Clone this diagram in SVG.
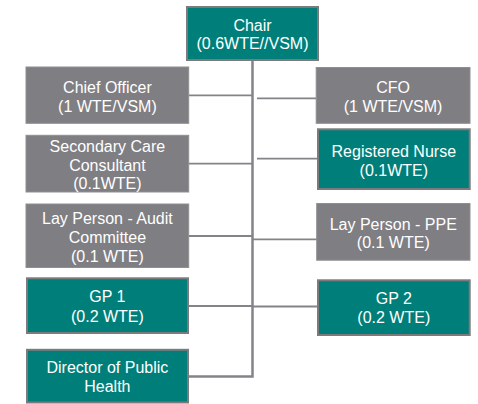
<svg xmlns="http://www.w3.org/2000/svg" width="478" height="404" viewBox="0 0 478 404">
<style>
.g{fill:#7f7e83;stroke:#8f8f92;stroke-width:1}
.t{fill:#007f7a;stroke:#7b7b7e;stroke-width:2}
text{font-family:"Liberation Sans",Arial,sans-serif;font-size:16px;fill:#ffffff;text-anchor:middle}
.c{stroke:#848488;fill:none}
</style>
<rect width="478" height="404" fill="#ffffff"/>
<g id="connectors">
<path class="c" stroke-width="2.5" d="M252.5 61V376.5H189"/>
<g stroke-width="1.8" class="c">
<line x1="189" y1="95.3" x2="252" y2="95.3"/>
<line x1="189" y1="163.7" x2="252" y2="163.7"/>
<line x1="189" y1="236" x2="252" y2="236"/>
<line x1="189" y1="306" x2="252" y2="306"/>
<line x1="257" y1="98.3" x2="316" y2="98.3"/>
<line x1="257" y1="158.7" x2="317" y2="158.7"/>
<line x1="253" y1="239.3" x2="317" y2="239.3"/>
<line x1="253" y1="306.5" x2="317" y2="306.5"/>
</g>
</g>
<g id="chair"><rect class="t" x="187" y="7" width="131" height="53"/><text x="252.5" y="30.7">Chair</text><text x="252.5" y="49.3">(0.6WTE//VSM)</text></g>
<g id="chief-officer"><rect class="g" x="26" y="67" width="162.7" height="56.3"/><text x="107.4" y="92.5">Chief Officer</text><text x="107.4" y="111.5">(1 WTE/VSM)</text></g>
<g id="cfo"><rect class="g" x="316.2" y="67.5" width="153.8" height="55.8"/><text x="393.1" y="93.4">CFO</text><text x="393.1" y="112.4">(1 WTE/VSM)</text></g>
<g id="secondary-care"><rect class="g" x="26" y="135.3" width="162.7" height="56.7"/><text x="107.4" y="151.5">Secondary Care</text><text x="107.4" y="170.5">Consultant</text><text x="107.4" y="189.2">(0.1WTE)</text></g>
<g id="registered-nurse"><rect class="t" x="318" y="129.3" width="151.7" height="59.7"/><text x="393.8" y="156.7">Registered Nurse</text><text x="393.8" y="175.7">(0.1WTE)</text></g>
<g id="lay-audit"><rect class="g" x="26" y="204" width="162.7" height="63.5"/><text x="107.4" y="224">Lay Person - Audit</text><text x="107.4" y="242.6">Committee</text><text x="107.4" y="261.5">(0.1 WTE)</text></g>
<g id="lay-ppe"><rect class="g" x="316.7" y="203.5" width="153.3" height="56.7"/><text x="393.3" y="229.7">Lay Person - PPE</text><text x="393.3" y="248.2">(0.1 WTE)</text></g>
<g id="gp1"><rect class="t" x="27" y="278.3" width="161" height="54.7"/><text x="107.4" y="302.4">GP 1</text><text x="107.4" y="321.7">(0.2 WTE)</text></g>
<g id="gp2"><rect class="t" x="318" y="280.3" width="151.7" height="54.7"/><text x="393.8" y="304">GP 2</text><text x="393.8" y="323.4">(0.2 WTE)</text></g>
<g id="director-public-health"><rect class="t" x="27" y="349.8" width="161" height="52.7"/><text x="107.4" y="373">Director of Public</text><text x="107.4" y="391.8">Health</text></g>
</svg>
